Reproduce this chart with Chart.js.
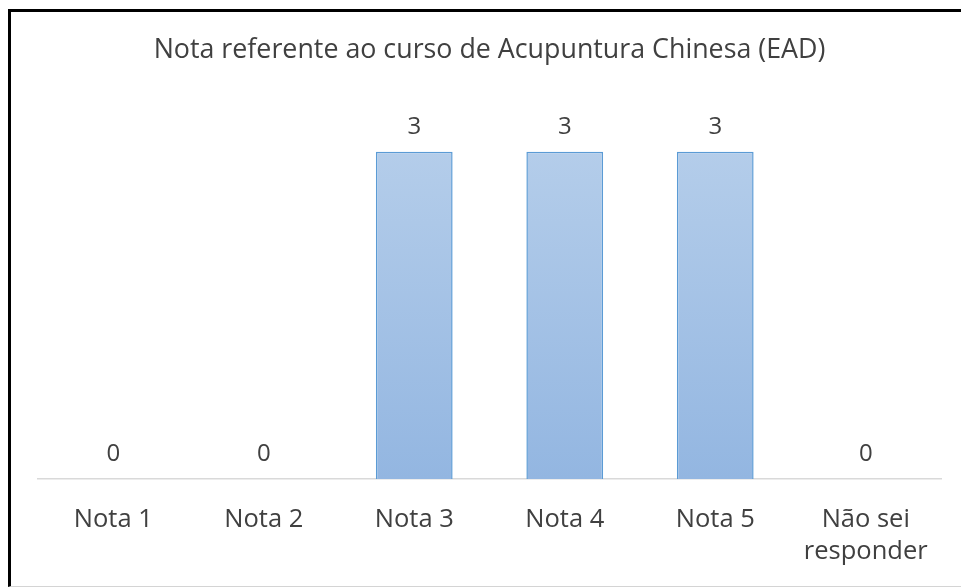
<!DOCTYPE html>
<html>
<head>
<meta charset="utf-8">
<script src="https://cdn.jsdelivr.net/npm/chart.js@4"></script>
<style>
  body { margin: 0; background: #fff; }
  #wrap { position: absolute; left: 0; top: 0; width: 961px; height: 588px; }
  #frame { position: absolute; left: 8px; top: 9px; width: 953px; height: 574px;
           border-top: 3px solid #000; border-left: 3px solid #000; border-bottom: 1px solid #d4d4d4;
           pointer-events: none; }
</style>
</head>
<body>
<div id="wrap"><canvas id="chart" width="961" height="588"></canvas></div>
<div id="frame"></div>
<script>
var titleText = "Nota referente ao curso de Acupuntura Chinesa (EAD)";
var categories = ["Nota 1", "Nota 2", "Nota 3", "Nota 4", "Nota 5", ["Não sei", "responder"]];
var counts = [0, 0, 3, 3, 3, 0];

var FONT = "'Open Sans', 'DejaVu Sans', sans-serif";
var TEXT = "#404040";

// draws the value above each bar
var valueLabels = {
  id: "valueLabels",
  afterDatasetsDraw: function(chart) {
    var ctx = chart.ctx;
    var meta = chart.getDatasetMeta(0);
    ctx.save();
    ctx.font = "24px " + FONT;
    ctx.fillStyle = TEXT;
    ctx.textAlign = "center";
    ctx.textBaseline = "middle";
    meta.data.forEach(function(bar, i) {
      ctx.fillText(String(counts[i]), bar.x, bar.y - 25);
    });
    ctx.restore();
  }
};

function barFill(context) {
  var area = context.chart.chartArea;
  if (!area) return "#a5c3e6";
  var y0 = context.chart.scales.y.getPixelForValue(3);
  var g = context.chart.ctx.createLinearGradient(0, y0, 0, area.bottom);
  g.addColorStop(0, "#b4cdea");
  g.addColorStop(1, "#93b6e1");
  return g;
}

new Chart(document.getElementById("chart").getContext("2d"), {
  type: "bar",
  data: {
    labels: categories,
    datasets: [{
      data: counts,
      backgroundColor: barFill,
      borderColor: "#5b9bd5",
      borderWidth: 1.5,
      categoryPercentage: 1,
      barPercentage: 0.51
    }]
  },
  options: {
    responsive: false,
    animation: false,
    layout: { padding: { left: 38, right: 20, top: 34, bottom: 0 } },
    plugins: {
      legend: { display: false },
      tooltip: { enabled: false },
      title: {
        display: true,
        text: titleText,
        color: TEXT,
        font: { family: FONT, size: 26.8, weight: "normal", lineHeight: 1.2 },
        padding: { top: 0, bottom: 31 }
      }
    },
    scales: {
      x: {
        grid: { display: false, drawTicks: false },
        border: { display: true, color: "#d9d9d9", width: 1.5 },
        ticks: { color: TEXT, padding: 25, font: { family: FONT, size: 25.5, lineHeight: 1.25 }, maxRotation: 0 },
        afterFit: function(scale) { scale.height = 109; }
      },
      y: {
        display: false,
        min: 0,
        max: 3.5
      }
    }
  },
  plugins: [valueLabels]
});
</script>
</body>
</html>
